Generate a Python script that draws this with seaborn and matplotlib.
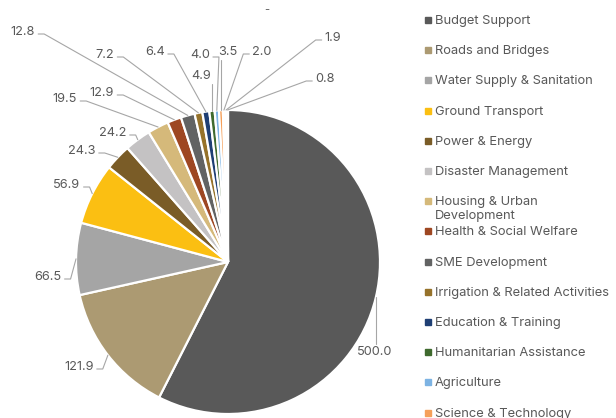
import matplotlib
matplotlib.use("Agg")
import matplotlib.pyplot as plt
import seaborn as sns
import numpy as np

# -----------------------------------
# Data
# -----------------------------------
categories = [
    "Budget Support", "Roads and Bridges", "Water Supply & Sanitation",
    "Ground Transport", "Power & Energy", "Disaster Management",
    "Housing & Urban Development", "Health & Social Welfare", "SME Development",
    "Irrigation & Related Activities", "Education & Training",
    "Humanitarian Assistance", "Agriculture", "Science & Technology",
    "Environment", "Ports & Shipping", "Others",
]
values = [500.0, 121.9, 66.5, 56.9, 24.3, 24.2, 19.5, 12.9, 12.8,
          7.2, 6.4, 4.9, 4.0, 3.5, 2.0, 1.9, 0.8]
slice_colors = [
    "#595959", "#AC9A72", "#A5A5A5", "#FBBF12", "#7A5C27", "#C4C2C3",
    "#D5B97A", "#9E4722", "#626363", "#96722A", "#1F3F74", "#3F6A2E",
    "#7DB3E3", "#F5A05A", "#E4E2E2", "#FFD94A", "#F2E6C8",
]
legend_labels = [c.replace("Urban Development", "Urban\nDevelopment") for c in categories]

# -----------------------------------
# Layout (figure pixels, origin top-left)
# -----------------------------------
W, H = 616, 418
CX, CY, R = 228, 262, 152
label_pos = [(375, 352), (79, 367), (48, 277), (67, 185), (82, 151), (113, 133),
             (65, 99), (102, 93), (23, 32), (105, 55), (155, 52), (201, 76),
             (200, 55), (228, 52), (262, 52), (333, 38), (325, 79)]
TEXT = "#595959"
LINE = "#A6A6A6"

sns.set_theme(style="white")
plt.rcParams["font.family"] = ["Inter", "DejaVu Sans"]

fig = plt.figure(figsize=(W / 100, H / 100), dpi=100)
ax = fig.add_axes([0, 0, 1, 1])

wedges, _ = ax.pie(
    values, colors=sns.color_palette(slice_colors), startangle=90,
    counterclock=False, radius=R, center=(CX, H - CY),
    wedgeprops=dict(edgecolor="white", linewidth=1.6),
)
ax.set_xlim(0, W)
ax.set_ylim(0, H)
ax.set_aspect("equal")
ax.axis("off")

# data labels
texts = []
for v, (lx, ly) in zip(values, label_pos):
    texts.append(ax.text(lx, H - ly, f"{v:.1f}", ha="center", va="center",
                         fontsize=9.2, color=TEXT))

fig.canvas.draw()
renderer = fig.canvas.get_renderer()
inv = ax.transData.inverted()

# leader lines from slice edge to label
for w, t in zip(wedges, texts):
    mid = np.deg2rad((w.theta1 + w.theta2) / 2)
    px, py = CX + R * np.cos(mid), (H - CY) + R * np.sin(mid)
    bb = t.get_window_extent(renderer)
    (x0, y0), (x1, y1) = inv.transform([[bb.x0, bb.y0], [bb.x1, bb.y1]])
    cy = (y0 + y1) / 2 - 2
    if x0 - 2 <= px <= x1 + 2:
        ty = y0 - 2 if py < y0 else y1 + 2
        ax.plot([px, px], [py, ty], color=LINE, lw=0.8)
    elif px > x1:
        sx = x1 + 3
        ax.plot([px, sx + 6, sx], [py, cy, cy], color=LINE, lw=0.8)
    else:
        sx = x0 - 3
        ax.plot([px, sx - 6, sx], [py, cy, cy], color=LINE, lw=0.8)

# legend (manual, clipped at bottom like the original)
for i, (lab, col) in enumerate(zip(legend_labels, slice_colors)):
    y = H - (20 + i * 30.2)
    ax.plot([428], [y], marker="s", markersize=4.5, color=col, linestyle="none")
    ax.text(435, y + 5, lab, ha="left", va="top", fontsize=9.3, color=TEXT,
            linespacing=1.15)

ax.text(267, H - 10, "-", ha="center", va="center", fontsize=8, color=TEXT)

fig.savefig("out.png", dpi=100)
